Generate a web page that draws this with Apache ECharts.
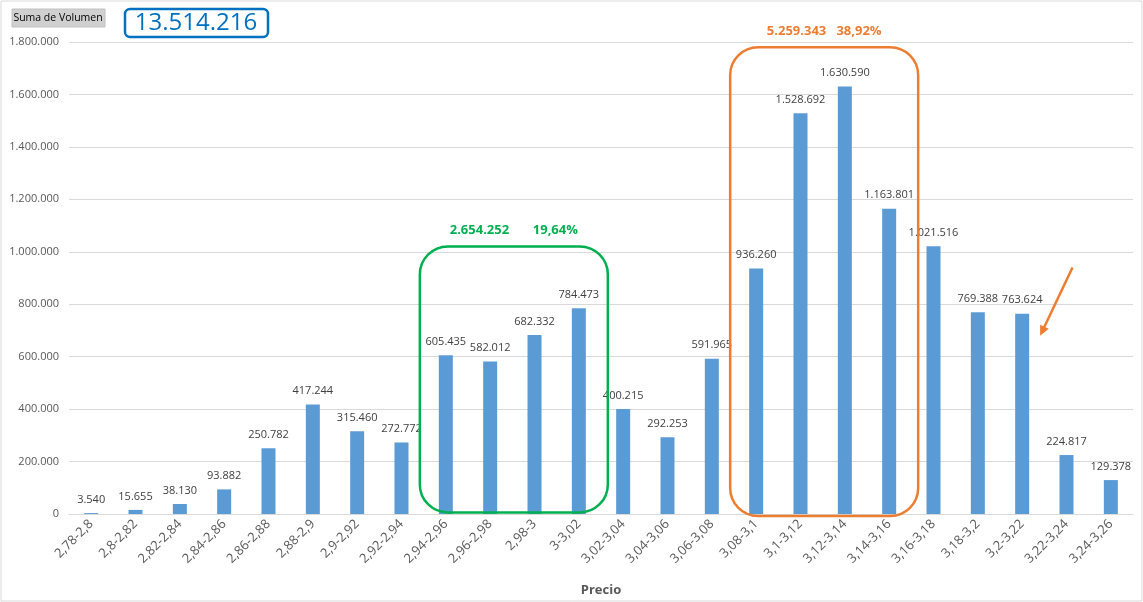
<!DOCTYPE html>
<html>
<head>
<meta charset="utf-8">
<script src="https://cdn.jsdelivr.net/npm/echarts@6/dist/echarts.min.js"></script>
<style>
  html, body { margin: 0; padding: 0; background: #fff; }
  #chart { width: 1143px; height: 602px; }
</style>
</head>
<body>
<div id="chart"></div>
<script>
// rangos de precio
const categorias = ['2,78-2,8', '2,8-2,82', '2,82-2,84', '2,84-2,86', '2,86-2,88', '2,88-2,9',
  '2,9-2,92', '2,92-2,94', '2,94-2,96', '2,96-2,98', '2,98-3', '3-3,02', '3,02-3,04',
  '3,04-3,06', '3,06-3,08', '3,08-3,1', '3,1-3,12', '3,12-3,14', '3,14-3,16', '3,16-3,18',
  '3,18-3,2', '3,2-3,22', '3,22-3,24', '3,24-3,26'];
const volumen = [3540, 15655, 38130, 93882, 250782, 417244, 315460, 272772, 605435, 582012,
  682332, 784473, 400215, 292253, 591965, 936260, 1528692, 1630590, 1163801, 1021516,
  769388, 763624, 224817, 129378];
const totalTexto = '13.514.216';
const grupoVerde = { desde: 8, hasta: 11, texto: '2.654.252       19,64%' };
const grupoNaranja = { desde: 15, hasta: 18, texto: '5.259.343   38,92%' };

function fmt(n) {
    return String(n).replace(/\B(?=(\d{3})+(?!\d))/g, '.');
}

var chartDom = document.getElementById('chart');
var myChart = echarts.init(chartDom);
var font = 'Open Sans, DejaVu Sans, sans-serif';

var option = {
    animation: false,
    textStyle: { fontFamily: font },
    grid: { left: 69, right: 10, top: 42, bottom: 88 },
    xAxis: {
        type: 'category',
        data: categorias,
        name: 'Precio',
        nameLocation: 'middle',
        nameGap: 70,
        nameTextStyle: { color: '#595959', fontSize: 13, fontWeight: 'bold' },
        axisLine: { lineStyle: { color: '#d9d9d9' } },
        axisTick: { show: false },
        axisLabel: { rotate: 45, color: '#595959', fontSize: 13, margin: 8, interval: 0 }
    },
    yAxis: {
        type: 'value',
        min: 0,
        max: 1800000,
        interval: 200000,
        axisLine: { show: false },
        axisTick: { show: false },
        splitLine: { lineStyle: { color: '#d9d9d9' } },
        axisLabel: { color: '#595959', fontSize: 11, margin: 10, formatter: fmt }
    },
    series: [
        {
            name: 'Suma de Volumen',
            type: 'bar',
            data: volumen,
            barWidth: 14,
            itemStyle: { color: '#5b9bd5' },
            label: {
                show: true,
                position: 'top',
                distance: 8,
                color: '#404040',
                fontSize: 11,
                formatter: (p) => fmt(p.value)
            }
        }
    ]
};
myChart.setOption(option);

// cajas de anotación a partir de las escalas
function caja(g, color, arriba, abajo) {
    var left = myChart.convertToPixel({ xAxisIndex: 0 }, g.desde) - 26;
    var right = myChart.convertToPixel({ xAxisIndex: 0 }, g.hasta) + 29;
    var top = myChart.convertToPixel({ yAxisIndex: 0 }, arriba);
    var bottom = myChart.convertToPixel({ yAxisIndex: 0 }, abajo);
    return [
        {
            type: 'rect',
            shape: { x: left, y: top, width: right - left, height: bottom - top, r: 28 },
            style: { fill: 'none', stroke: color, lineWidth: 2.5 },
            z: 10
        },
        {
            type: 'text',
            x: (left + right) / 2,
            y: top - 16,
            style: {
                text: g.texto, fill: color, font: 'bold 13px ' + font,
                textAlign: 'center', textVerticalAlign: 'middle'
            },
            z: 10
        }
    ];
}

var flechaX0 = myChart.convertToPixel({ xAxisIndex: 0 }, 22) + 6;
var flechaY0 = myChart.convertToPixel({ yAxisIndex: 0 }, 940000);
var flechaX1 = myChart.convertToPixel({ xAxisIndex: 0 }, 21) + 18;
var flechaY1 = myChart.convertToPixel({ yAxisIndex: 0 }, 680000);
var ang = Math.atan2(flechaY1 - flechaY0, flechaX1 - flechaX0);
var cabeza = [
    [flechaX1, flechaY1],
    [flechaX1 - 11 * Math.cos(ang - 0.45), flechaY1 - 11 * Math.sin(ang - 0.45)],
    [flechaX1 - 11 * Math.cos(ang + 0.45), flechaY1 - 11 * Math.sin(ang + 0.45)]
];

myChart.setOption({
    graphic: [
        {
            type: 'rect',
            shape: { x: 1, y: 1, width: 1141, height: 600 },
            style: { fill: 'none', stroke: '#d9d9d9', lineWidth: 1 },
            z: 0
        },
        {
            type: 'rect',
            shape: { x: 12, y: 9, width: 93, height: 18 },
            style: { fill: '#d0d0d0', stroke: '#c0c0c0', lineWidth: 1 },
            z: 10
        },
        {
            type: 'text',
            x: 58, y: 18,
            style: {
                text: 'Suma de Volumen', fill: '#000', font: '10.5px ' + font,
                textAlign: 'center', textVerticalAlign: 'middle'
            },
            z: 11
        },
        {
            type: 'rect',
            shape: { x: 125, y: 9, width: 143, height: 28, r: 5 },
            style: { fill: '#fff', stroke: '#0070c0', lineWidth: 2.5 },
            z: 10
        },
        {
            type: 'text',
            x: 196, y: 23,
            style: {
                text: totalTexto, fill: '#0070c0', font: '24px ' + font,
                textAlign: 'center', textVerticalAlign: 'middle'
            },
            z: 11
        }
    ].concat(caja(grupoVerde, '#00b050', 1020000, 6000))
     .concat(caja(grupoNaranja, '#ed7d31', 1780000, -8000))
     .concat([
        {
            type: 'line',
            shape: { x1: flechaX0, y1: flechaY0, x2: flechaX1 - 6 * Math.cos(ang), y2: flechaY1 - 6 * Math.sin(ang) },
            style: { stroke: '#ed7d31', lineWidth: 2.5 },
            z: 10
        },
        {
            type: 'polygon',
            shape: { points: cabeza },
            style: { fill: '#ed7d31' },
            z: 10
        }
    ])
});
</script>
</body>
</html>
